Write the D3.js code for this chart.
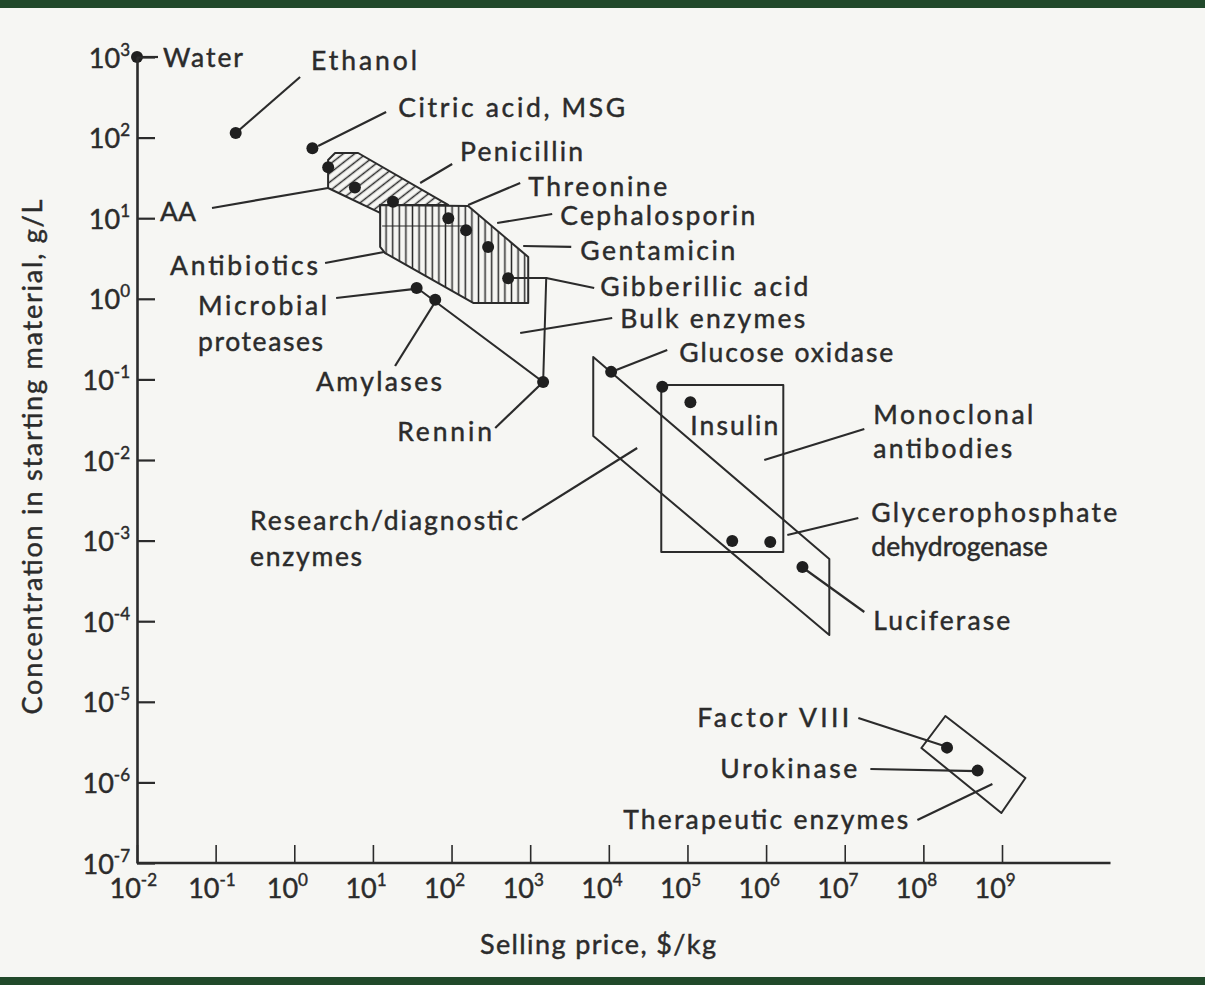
<!DOCTYPE html>
<html><head><meta charset="utf-8">
<script src="https://cdn.jsdelivr.net/npm/d3@7"></script>
<style>
html,body{margin:0;padding:0;background:#f6f6f3;}
svg{display:block;}
text{font-family:Lato,"Open Sans",sans-serif;fill:#2b2b2b;stroke:#2b2b2b;stroke-width:0.45px;}
</style></head><body>
<svg id="chart" width="1205" height="985"></svg>
<script>
// ---------------- DATA ----------------
const products = ["Water","Ethanol","Citric acid, MSG","Amino acid","Amino acid","Penicillin",
  "Threonine","Cephalosporin","Gentamicin","Gibberillic acid","Microbial proteases","Amylases",
  "Rennin","Glucose oxidase","Monoclonal antibody","Insulin","Diagnostic enzyme",
  "Glycerophosphate dehydrogenase","Luciferase","Factor VIII","Urokinase"];
const price = [0.01,0.18,1.7,2.7,5.9,18,91,153,292,525,36,62,1460,10700,47800,109000,371000,1.13e6,2.9e6,2.0e8,4.9e8]; // $/kg
const conc  = [1000,114,74,43,24,16,10,7.1,4.4,1.8,1.36,0.97,0.093,0.124,0.081,0.052,0.00099,0.00096,0.00047,2.7e-6,1.4e-6]; // g/L

const xTickExp = [-2,-1,0,1,2,3,4,5,6,7,8,9];
const yTickExp = [3,2,1,0,-1,-2,-3,-4,-5,-6,-7];
const xTickLabels = ["-2","-1","0","1","2","3","4","5","6","7","8","9"];
const yTickLabels = ["3","2","1","0","-1","-2","-3","-4","-5","-6","-7"];

// product regions, vertices as [log10 price, log10 concentration]
const regionAA = [[0.430,1.375],[0.430,1.722],[0.519,1.809],[0.812,1.809],[1.957,1.164],[1.092,1.164],[1.092,1.065]];
const regionAntibiotics = [[1.092,1.164],[2.211,1.151],[2.975,0.519],[2.975,-0.052],[2.275,-0.052],[1.155,0.568],[1.092,0.643]];
const antibioticsDivider = [[1.117,0.903],[2.198,0.903]];
const regionBulk = [[1.562,0.134],[3.165,-1.032],[3.204,0.258],[2.720,0.258]];
const regionResearch = [[3.802,-0.722],[3.802,-1.702],[6.804,-4.171],[6.804,-3.228]];
const regionMonoclonal = [[4.667,-1.069],[6.219,-1.069],[6.219,-3.141],[4.667,-3.141]];
const regionTherapeutic = [[8.280,-5.176],[7.975,-5.573],[8.992,-6.380],[9.298,-5.945]];

// annotation labels: text, left anchor [log10 price, log10 conc], text width (px, 0 = natural)
const labelText = ["Water","Ethanol","Citric acid, MSG","Penicillin","Threonine","Cephalosporin","Gentamicin",
  "Gibberillic acid","Bulk enzymes","AA","Antibiotics","Microbial","proteases","Amylases","Rennin",
  "Glucose oxidase","Insulin","Monoclonal","antibodies","Glycerophosphate","dehydrogenase","Luciferase",
  "Research/diagnostic","enzymes","Factor VIII","Urokinase","Therapeutic enzymes"];
const labelAnchor = [[-1.669,3.0],[0.214,2.963],[1.321,2.380],[2.109,1.834],[2.975,1.400],[3.382,1.040],[3.636,0.605],
  [3.891,0.159],[4.145,-0.238],[-1.707,1.089],[-1.580,0.419],[-1.224,-0.077],[-1.224,-0.524],[0.277,-1.020],[1.308,-1.640],
  [4.896,-0.660],[5.036,-1.566],[7.364,-1.429],[7.364,-1.851],[7.338,-2.645],[7.338,-3.067],[7.364,-3.985],
  [-0.562,-2.744],[-0.562,-3.191],[5.125,-5.189],[5.417,-5.821],[4.183,-6.454]];
const labelWidth = [80,106,227,123,139,195,155,208,185,0,148,129,125,126,95,214,88,160,139,246,0,137,268,112,152,137,285];

// leader lines [from, to] in [log10 price, log10 conc]
const leaders = [
  [[-2,3],[-1.733,3]],
  [[-0.715,2.082],[0.074,2.752]],
  [[0.303,1.896],[1.168,2.318]],
  [[1.601,1.437],[2.008,1.672]],
  [[2.211,1.164],[2.873,1.437]],
  [[2.580,0.940],[3.280,1.052]],
  [[2.911,0.655],[3.522,0.643]],
  [[3.204,0.258],[3.814,0.134]],
  [[2.873,-0.424],[4.043,-0.238]],
  [[-1.046,1.127],[0.430,1.375]],
  [[0.392,0.444],[1.142,0.581]],
  [[0.532,0.010],[1.537,0.122]],
  [[1.282,-0.834],[1.791,-0.040]],
  [[2.555,-1.603],[3.165,-1.032]],
  [[4.094,-0.883],[4.743,-0.635]],
  [[5.977,-2.0],[7.249,-1.615]],
  [[6.270,-2.931],[7.173,-2.720]],
  [[6.473,-3.340],[7.249,-3.886]],
  [[2.898,-2.744],[4.361,-1.851]],
  [[7.173,-5.201],[8.305,-5.561]],
  [[7.326,-5.834],[8.687,-5.859]],
  [[7.924,-6.467],[8.878,-6.020]]
];

const xTitle = "Selling price, $/kg";
const yTitle = "Concentration in starting material, g/L";

// ---------------- DRAW ----------------
const svg = d3.select("#chart");
const ink = "#2b2b2b";

// paper + scan border bands
svg.append("rect").attr("width",1205).attr("height",985).attr("fill","#f6f6f3");
svg.append("rect").attr("width",1205).attr("height",8).attr("fill","#21492a");
svg.append("rect").attr("y",977).attr("width",1205).attr("height",8).attr("fill","#21492a");

const x = d3.scaleLog().domain([1e-2,1e9]).range([137,1002]);
const y = d3.scaleLog().domain([1e-7,1e3]).range([863,57]);
const P = d => [x(Math.pow(10,d[0])), y(Math.pow(10,d[1]))];

const defs = svg.append("defs");
const pd = defs.append("pattern").attr("id","hatchDiag").attr("patternUnits","userSpaceOnUse")
  .attr("width",7).attr("height",7).attr("patternTransform","rotate(-38)");
pd.append("line").attr("x1",0).attr("x2",7).attr("y1",3.5).attr("y2",3.5).attr("stroke",ink).attr("stroke-width",1.5);
const pv = defs.append("pattern").attr("id","hatchVert").attr("patternUnits","userSpaceOnUse")
  .attr("width",6.6).attr("height",10);
pv.append("line").attr("x1",3.3).attr("x2",3.3).attr("y1",0).attr("y2",10).attr("stroke",ink).attr("stroke-width",1.5);

const poly = pts => "M" + pts.map(P).map(p=>p.join(",")).join("L") + "Z";
const path = pts => "M" + pts.map(P).map(p=>p.join(",")).join("L");

const g = svg.append("g");
g.append("path").attr("d",poly(regionAA)).attr("fill","url(#hatchDiag)").attr("stroke",ink).attr("stroke-width",2).attr("stroke-linejoin","round");
g.append("path").attr("d",poly(regionAntibiotics)).attr("fill","#f6f6f3").attr("stroke","none");
g.append("path").attr("d",poly(regionAntibiotics)).attr("fill","url(#hatchVert)").attr("stroke",ink).attr("stroke-width",2).attr("stroke-linejoin","round");
g.append("path").attr("d",path(antibioticsDivider)).attr("fill","none").attr("stroke",ink).attr("stroke-width",1.2);
g.append("path").attr("d",path(regionBulk)).attr("fill","none").attr("stroke",ink).attr("stroke-width",2);
[regionResearch, regionMonoclonal, regionTherapeutic].forEach(r=>{
  g.append("path").attr("d",poly(r)).attr("fill","none").attr("stroke",ink).attr("stroke-width",2).attr("stroke-linejoin","round");
});

// leaders
g.selectAll("line.leader").data(leaders).join("line").attr("class","leader")
  .attr("x1",d=>P(d[0])[0]).attr("y1",d=>P(d[0])[1])
  .attr("x2",d=>P(d[1])[0]).attr("y2",d=>P(d[1])[1])
  .attr("stroke",ink).attr("stroke-width",2.2);

// axes
const xAxis = d3.axisBottom(x).tickValues(xTickExp.map(e=>Math.pow(10,e))).tickSizeInner(-18).tickSizeOuter(0).tickFormat(()=> "");
const gx = svg.append("g").attr("transform","translate(0,863)").call(xAxis);
gx.select(".domain").remove();
gx.selectAll(".tick line").attr("stroke",ink).attr("stroke-width",1.6);
svg.append("line").attr("x1",x(1e-2)).attr("x2",x(Math.pow(10,10.38))).attr("y1",863).attr("y2",863).attr("stroke",ink).attr("stroke-width",2.6);
gx.selectAll(".tick").each(function(d,i){
  const t = d3.select(this).append("text").attr("x",-28).attr("y",35).attr("text-anchor","start")
    .style("font-size","27px").attr("fill",ink).text("10");
  t.append("tspan").attr("dy",-12).style("font-size","17px").text(xTickLabels[i]);
});

const yAxis = d3.axisLeft(y).tickValues(yTickExp.map(e=>Math.pow(10,e))).tickSizeInner(-18).tickSizeOuter(0).tickFormat(()=> "");
const gy = svg.append("g").attr("transform","translate(137,0)").call(yAxis);
gy.select(".domain").attr("stroke",ink).attr("stroke-width",2.6);
gy.selectAll(".tick line").attr("stroke",ink).attr("stroke-width",2.2);
gy.selectAll(".tick").each(function(d,i){
  const t = d3.select(this).append("text").attr("x",-7).attr("y",10).attr("text-anchor","end")
    .style("font-size","27px").attr("fill",ink).text("10");
  t.append("tspan").attr("dy",-12).style("font-size","17px").text(yTickLabels[i]);
});

// dots
g.selectAll("circle").data(products).join("circle")
  .attr("cx",(d,i)=>x(price[i])).attr("cy",(d,i)=>y(conc[i])).attr("r",6).attr("fill","#1f1f1f");

// labels
const lbl = svg.append("g").selectAll("text").data(labelText).join("text")
  .attr("x",(d,i)=>P(labelAnchor[i])[0]).attr("y",(d,i)=>P(labelAnchor[i])[1]+10)
  .style("font-size","26.5px").text(d=>d);
lbl.filter((d,i)=>labelWidth[i]>0).attr("textLength",d=>labelWidth[labelText.indexOf(d)]).attr("lengthAdjust","spacing");

// titles
svg.append("text").attr("x",598).attr("y",954).attr("text-anchor","middle")
  .attr("textLength",236).attr("lengthAdjust","spacing").style("font-size","27px").text(xTitle);
svg.append("text").attr("transform","translate(42,457) rotate(-90)").attr("text-anchor","middle")
  .attr("textLength",515).attr("lengthAdjust","spacing").style("font-size","27px").text(yTitle);
</script>
</body></html>
